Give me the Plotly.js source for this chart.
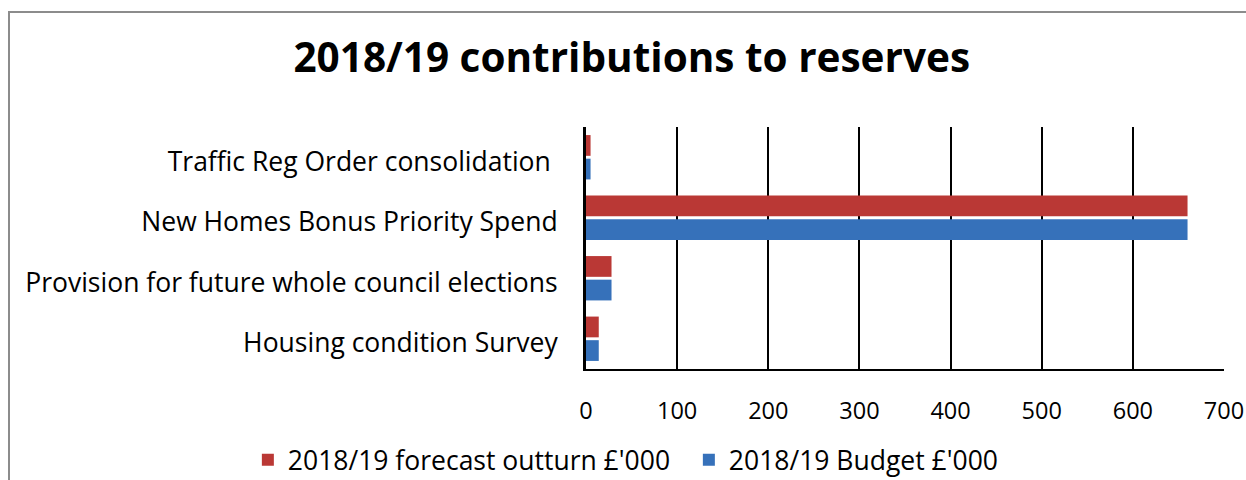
<!DOCTYPE html>
<html>
<head>
<meta charset="utf-8">
<script src="https://cdn.plot.ly/plotly-3.0.1.min.js"></script>
<style>
  html, body { margin: 0; padding: 0; background: #fff; }
  #frame { position: absolute; left: 8px; top: 11px; width: 1300px; height: 600px;
           border-left: 2px solid #8c8c8c; border-top: 2px solid #8c8c8c; }
  #chart { position: absolute; left: 0; top: 0; width: 1246px; height: 480px; }
</style>
</head>
<body>
<div id="frame"></div>
<div id="chart"></div>
<script>
// Categories listed bottom to top
const categories = [
  "Housing condition Survey",
  "Provision for future whole council elections",
  "New Homes Bonus Priority Spend",
  "Traffic Reg Order consolidation "
];
const budget = [14, 28, 660, 5];
const forecast = [14, 28, 660, 5];
const seriesNames = ["2018/19 Budget £'000", "2018/19 forecast outturn £'000"];
const xTicks = [0, 100, 200, 300, 400, 500, 600, 700];

const traces = [
  {
    type: 'bar', orientation: 'h', name: seriesNames[0],
    y: categories, x: budget,
    marker: { color: '#3671BA' }, hoverinfo: 'x+y'
  },
  {
    type: 'bar', orientation: 'h', name: seriesNames[1],
    y: categories, x: forecast,
    marker: { color: '#BA3835' }, hoverinfo: 'x+y'
  }
];

const layout = {
  width: 1246, height: 480,
  paper_bgcolor: 'rgba(0,0,0,0)', plot_bgcolor: 'rgba(0,0,0,0)',
  font: { family: '"Open Sans", sans-serif', color: '#000', size: 26 },
  title: {
    text: '<b>2018/19 contributions to reserves</b>',
    font: { family: '"Open Sans", sans-serif', size: 40.5, color: '#000' },
    x: 0.507, xanchor: 'center', y: 0.88, yanchor: 'middle', yref: 'container'
  },
  margin: { l: 586, r: 22, t: 127, b: 111, autoexpand: false },
  barmode: 'group', bargap: 0.22, bargroupgap: 0.12,
  xaxis: {
    range: [0, 700], tickvals: xTicks, ticktext: xTicks.map(String),
    showgrid: true, gridcolor: '#000', gridwidth: 2,
    zeroline: false, showline: true, linecolor: '#000', linewidth: 2,
    ticks: '', ticklabelstandoff: 20,
    tickfont: { size: 23.5 }, fixedrange: true
  },
  yaxis: {
    type: 'category', categoryorder: 'array', categoryarray: categories,
    showgrid: false, zeroline: false, showline: true, linecolor: '#000', linewidth: 3,
    ticks: '', ticklabelstandoff: 20, ticklabelshift: 4,
    tickfont: { size: 26.5 }, fixedrange: true
  },
  showlegend: true,
  legend: {
    orientation: 'h',
    x: -0.53, xanchor: 'left', y: -0.376, yanchor: 'middle',
    traceorder: 'reversed', font: { size: 26.5 }, itemwidth: 30,
    entrywidth: 396
  }
};

Plotly.newPlot('chart', traces, layout, { displayModeBar: false, staticPlot: true });
</script>
</body>
</html>
